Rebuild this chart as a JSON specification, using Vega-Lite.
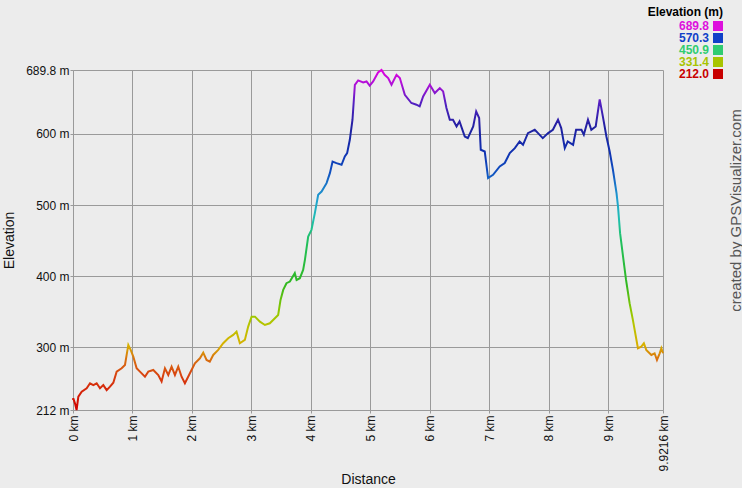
{
  "$schema": "https://vega.github.io/schema/vega-lite/v6.json",
  "width": 590,
  "height": 340,
  "autosize": {"type": "none"},
  "padding": {"left": 73, "top": 70, "right": 79, "bottom": 78},
  "background": "#ececec",
  "config": {
    "view": {"stroke": null},
    "font": "Liberation Sans",
    "axis": {
      "gridColor": "#9a9a9a",
      "gridOpacity": 1,
      "domainColor": "#9a9a9a",
      "tickColor": "#9a9a9a",
      "tickSize": 3,
      "labelPadding": 1,
      "labelFontSize": 12,
      "labelColor": "#111111",
      "labelFont": "Liberation Sans",
      "titleFont": "Liberation Sans",
      "titleFontSize": 14,
      "titleFontWeight": "normal",
      "titleColor": "#111111"
    }
  },
  "layer": [
    {
      "data": {
        "values": [
          {"d": 0, "e": 226}, {"d": 0.005, "e": 228.5}, {"d": 0.034, "e": 221}, {"d": 0.06, "e": 212},
          {"d": 0.09, "e": 230.7}, {"d": 0.146, "e": 237.7}, {"d": 0.23, "e": 242.5}, {"d": 0.286, "e": 249.5},
          {"d": 0.342, "e": 247}, {"d": 0.398, "e": 249.5}, {"d": 0.454, "e": 242.5}, {"d": 0.51, "e": 247},
          {"d": 0.566, "e": 240}, {"d": 0.622, "e": 244.8}, {"d": 0.678, "e": 250.4}, {"d": 0.734, "e": 265.9},
          {"d": 0.818, "e": 270.6}, {"d": 0.874, "e": 275.3}, {"d": 0.93, "e": 303.4}, {"d": 0.97, "e": 296.4},
          {"d": 1.014, "e": 287}, {"d": 1.07, "e": 270.6}, {"d": 1.126, "e": 265.9}, {"d": 1.21, "e": 258.8},
          {"d": 1.266, "e": 265.9}, {"d": 1.35, "e": 268.3}, {"d": 1.434, "e": 261.2}, {"d": 1.49, "e": 252},
          {"d": 1.546, "e": 270.6}, {"d": 1.602, "e": 261.2}, {"d": 1.658, "e": 273}, {"d": 1.714, "e": 261.2},
          {"d": 1.77, "e": 273}, {"d": 1.826, "e": 258.8}, {"d": 1.882, "e": 249.5}, {"d": 1.966, "e": 263.6},
          {"d": 2.05, "e": 277.7}, {"d": 2.134, "e": 284.7}, {"d": 2.19, "e": 292.6}, {"d": 2.246, "e": 282.3},
          {"d": 2.3, "e": 280}, {"d": 2.358, "e": 289.4}, {"d": 2.442, "e": 296.4}, {"d": 2.526, "e": 305.8},
          {"d": 2.61, "e": 312.8}, {"d": 2.694, "e": 317.5}, {"d": 2.75, "e": 322.1}, {"d": 2.806, "e": 305.8},
          {"d": 2.89, "e": 310.5}, {"d": 2.946, "e": 329.2}, {"d": 3.003, "e": 343.2}, {"d": 3.06, "e": 343.2},
          {"d": 3.143, "e": 336.2}, {"d": 3.227, "e": 331.5}, {"d": 3.31, "e": 333.9}, {"d": 3.395, "e": 341},
          {"d": 3.45, "e": 345.6}, {"d": 3.49, "e": 366.7}, {"d": 3.535, "e": 380.8}, {"d": 3.59, "e": 390.2},
          {"d": 3.647, "e": 392.5}, {"d": 3.73, "e": 404.3}, {"d": 3.76, "e": 394.8}, {"d": 3.815, "e": 397.2},
          {"d": 3.87, "e": 408.9}, {"d": 3.9, "e": 423}, {"d": 3.955, "e": 455.7}, {"d": 4.01, "e": 465.2},
          {"d": 4.067, "e": 488.6}, {"d": 4.123, "e": 514.4}, {"d": 4.18, "e": 519}, {"d": 4.264, "e": 530.8},
          {"d": 4.32, "e": 544.9}, {"d": 4.365, "e": 561.2}, {"d": 4.43, "e": 559}, {"d": 4.516, "e": 556.6},
          {"d": 4.571, "e": 568.3}, {"d": 4.61, "e": 573}, {"d": 4.655, "e": 591.7}, {"d": 4.7, "e": 619.9},
          {"d": 4.74, "e": 669}, {"d": 4.795, "e": 675.2}, {"d": 4.88, "e": 672.3}, {"d": 4.936, "e": 673.7},
          {"d": 4.99, "e": 667.7}, {"d": 5.047, "e": 673.7}, {"d": 5.13, "e": 686.4}, {"d": 5.188, "e": 689.8},
          {"d": 5.24, "e": 683}, {"d": 5.3, "e": 678.5}, {"d": 5.356, "e": 669}, {"d": 5.44, "e": 683},
          {"d": 5.496, "e": 678.5}, {"d": 5.58, "e": 655}, {"d": 5.69, "e": 643.4}, {"d": 5.776, "e": 641},
          {"d": 5.83, "e": 638.6}, {"d": 5.888, "e": 652.7}, {"d": 6.0, "e": 669}, {"d": 6.084, "e": 657.4},
          {"d": 6.168, "e": 664.4}, {"d": 6.224, "e": 659.7}, {"d": 6.28, "e": 636.3}, {"d": 6.336, "e": 619.9},
          {"d": 6.39, "e": 619.9}, {"d": 6.45, "e": 610.5}, {"d": 6.5, "e": 617.5}, {"d": 6.588, "e": 596.4},
          {"d": 6.64, "e": 594}, {"d": 6.73, "e": 610.5}, {"d": 6.78, "e": 631.6}, {"d": 6.83, "e": 622.3},
          {"d": 6.857, "e": 577.7}, {"d": 6.924, "e": 575.3}, {"d": 6.98, "e": 537.9}, {"d": 7.064, "e": 542.5},
          {"d": 7.176, "e": 554.2}, {"d": 7.26, "e": 559}, {"d": 7.345, "e": 573}, {"d": 7.43, "e": 580},
          {"d": 7.51, "e": 589.4}, {"d": 7.568, "e": 584.7}, {"d": 7.65, "e": 601.1}, {"d": 7.71, "e": 603.5},
          {"d": 7.765, "e": 605.8}, {"d": 7.82, "e": 601.1}, {"d": 7.9, "e": 594}, {"d": 7.99, "e": 601.1},
          {"d": 8.07, "e": 605.8}, {"d": 8.156, "e": 619.9}, {"d": 8.21, "e": 608.2}, {"d": 8.27, "e": 580},
          {"d": 8.32, "e": 589.4}, {"d": 8.41, "e": 584.7}, {"d": 8.46, "e": 605.8}, {"d": 8.55, "e": 605.8},
          {"d": 8.59, "e": 598.8}, {"d": 8.66, "e": 619.9}, {"d": 8.716, "e": 605.8}, {"d": 8.79, "e": 610.5},
          {"d": 8.857, "e": 648.6}, {"d": 8.91, "e": 624.6}, {"d": 8.97, "e": 596.4}, {"d": 9.025, "e": 575.3},
          {"d": 9.08, "e": 549.5}, {"d": 9.14, "e": 516.8}, {"d": 9.165, "e": 497.9}, {"d": 9.2, "e": 460.5},
          {"d": 9.25, "e": 427.6}, {"d": 9.3, "e": 394.8}, {"d": 9.36, "e": 362.1}, {"d": 9.415, "e": 338.6},
          {"d": 9.5, "e": 298.8}, {"d": 9.556, "e": 301}, {"d": 9.6, "e": 305.8}, {"d": 9.64, "e": 296.4},
          {"d": 9.726, "e": 289.4}, {"d": 9.78, "e": 291.7}, {"d": 9.82, "e": 282.3}, {"d": 9.866, "e": 291.7},
          {"d": 9.894, "e": 298.8}, {"d": 9.9216, "e": 291.7}
        ]
      },
      "mark": {
        "type": "line",
        "strokeWidth": 2,
        "stroke": {
          "gradient": "linear",
          "x1": 0, "y1": 1, "x2": 0, "y2": 0,
          "stops": [
            {"offset": 0, "color": "#d00000"},
            {"offset": 0.1, "color": "#d84010"},
            {"offset": 0.15, "color": "#d87010"},
            {"offset": 0.19, "color": "#d8b000"},
            {"offset": 0.25, "color": "#b8c400"},
            {"offset": 0.29, "color": "#90c800"},
            {"offset": 0.37, "color": "#30b820"},
            {"offset": 0.5, "color": "#20c060"},
            {"offset": 0.56, "color": "#20c0b0"},
            {"offset": 0.62, "color": "#20a0d0"},
            {"offset": 0.7, "color": "#1050c0"},
            {"offset": 0.76, "color": "#1030b0"},
            {"offset": 0.83, "color": "#2020a0"},
            {"offset": 0.9, "color": "#5020c0"},
            {"offset": 0.96, "color": "#b010d8"},
            {"offset": 1, "color": "#e000e0"}
          ]
        }
      },
      "encoding": {
        "x": {
          "field": "d",
          "type": "quantitative",
          "scale": {"domain": [0, 9.9216], "nice": false, "zero": false},
          "axis": {
            "values": [0, 1, 2, 3, 4, 5, 6, 7, 8, 9, 9.9216],
            "labelExpr": "datum.value + ' km'",
            "labelAngle": 270,
            "labelPadding": 2,
            "title": "Distance",
            "titlePadding": 1,
            "grid": true
          }
        },
        "y": {
          "field": "e",
          "type": "quantitative",
          "scale": {"domain": [212, 689.8], "nice": false, "zero": false},
          "axis": {
            "values": [212, 300, 400, 500, 600, 689.8],
            "labelExpr": "datum.value + ' m'",
            "title": "Elevation",
            "titlePadding": 9,
            "grid": true
          }
        }
      }
    },
    {
      "data": {
        "values": [
          {"level": "689.8", "elev": 689.8},
          {"level": "570.3", "elev": 570.3},
          {"level": "450.9", "elev": 450.9},
          {"level": "331.4", "elev": 331.4},
          {"level": "212.0", "elev": 212.0}
        ]
      },
      "mark": {"type": "square", "opacity": 0},
      "encoding": {
        "y": {
          "field": "elev",
          "type": "quantitative",
          "axis": {
            "orient": "right",
            "title": "created by GPSVisualizer.com",
            "labels": false,
            "ticks": false,
            "domain": false,
            "grid": false,
            "titleAngle": 270,
            "titleFontSize": 15,
            "titleColor": "#555555",
            "titleX": 72,
            "titleY": 140,
            "titleAlign": "center",
            "titleBaseline": "middle"
          }
        },
        "color": {
          "field": "level",
          "type": "nominal",
          "sort": null,
          "scale": {
            "domain": ["689.8", "570.3", "450.9", "331.4", "212.0"],
            "range": ["#dd11dd", "#1040c8", "#30cc70", "#a8c400", "#c80000"]
          },
          "legend": {
            "orient": "none",
            "legendX": 575,
            "legendY": -63,
            "title": "Elevation (m)",
            "titleFontSize": 12,
            "titleFontWeight": "bold",
            "titleColor": "#000000",
            "titleAnchor": "end",
            "titleAlign": "right",
            "titlePadding": 1,
            "symbolType": "square",
            "symbolSize": 100,
            "symbolOpacity": 1,
            "symbolStrokeWidth": 0,
            "labelAlign": "right",
            "labelOffset": -15,
            "labelFontSize": 12,
            "labelFontWeight": "bold",
            "rowPadding": 0,
            "encode": {
              "symbols": {"update": {"opacity": {"value": 1}, "fillOpacity": {"value": 1}}},
              "labels": {"update": {"fill": {"scale": "color", "field": "value"}}}
            }
          }
        }
      }
    }
  ],
  "resolve": {"axis": {"y": "independent"}}
}
